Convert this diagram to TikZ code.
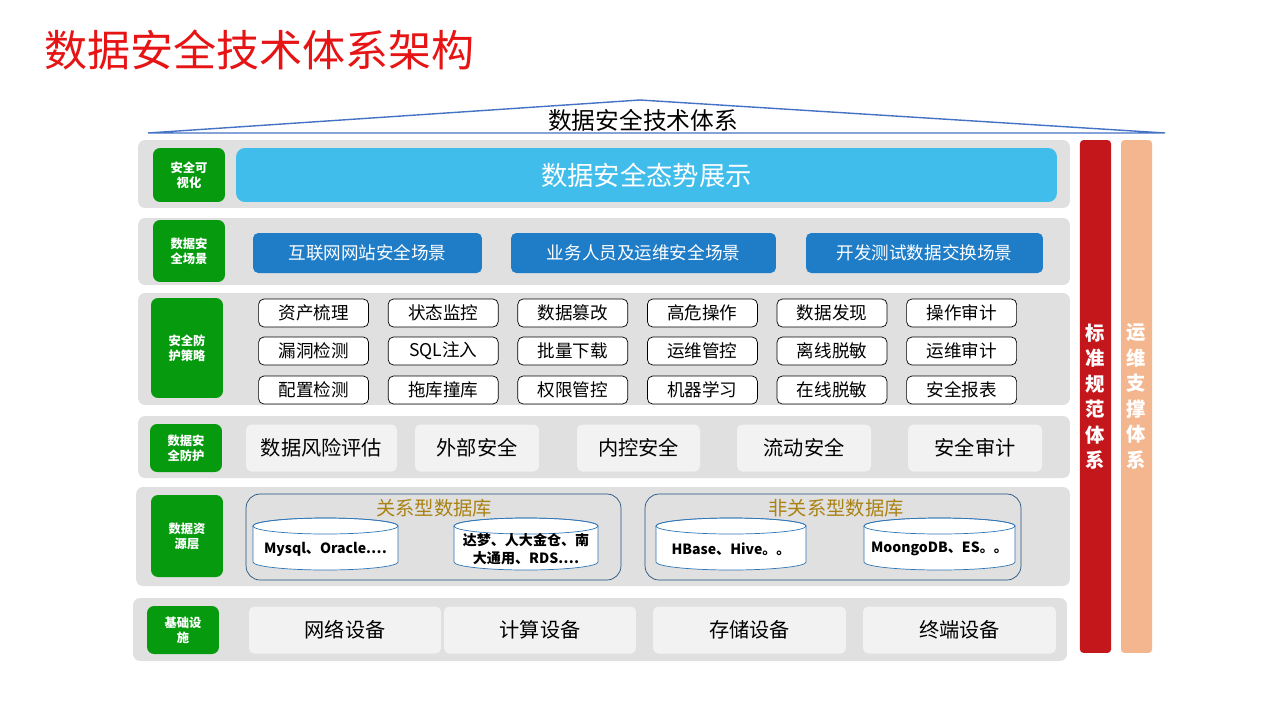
\documentclass[tikz,border=0pt]{standalone}
\usepackage{fontspec}
\setmainfont{Noto Sans CJK SC}
\usetikzlibrary{positioning, calc}

\definecolor{titlered}{RGB}{230,20,20}
\definecolor{roofblue}{RGB}{68,114,196}
\definecolor{rowgray}{RGB}{224,224,224}
\definecolor{labgreen}{RGB}{6,154,14}
\definecolor{skyblue}{RGB}{65,189,235}
\definecolor{btnblue}{RGB}{31,125,200}
\definecolor{cellgray}{RGB}{242,242,242}
\definecolor{dbblue}{RGB}{46,117,182}
\definecolor{dbgold}{RGB}{170,130,20}
\definecolor{barred}{RGB}{196,23,28}
\definecolor{barsalmon}{RGB}{244,182,143}

\tikzset{
  row/.style={draw=none,fill=rowgray,rounded corners=4pt},
  lab/.style={draw=none,fill=labgreen,rounded corners=4pt,text=white,font=\fontsize{7}{8.5}\selectfont\bfseries,align=center,minimum width=1.44cm},
  btn/.style={fill=btnblue,rounded corners=3pt,text=white,font=\fontsize{10}{12}\selectfont,minimum height=0.8cm},
  tag/.style={draw=black,fill=white,rounded corners=3pt,font=\fontsize{10}{12}\selectfont,minimum width=2.2cm,minimum height=0.56cm,inner sep=1pt},
  cell/.style={fill=cellgray,rounded corners=3pt,font=\fontsize{11.5}{13}\selectfont,minimum height=0.94cm},
  dbgroup/.style={draw=dbblue!70!black,rounded corners=8pt,minimum width=7.5cm,minimum height=1.72cm},
  vbar/.style={rounded corners=2pt,minimum height=10.26cm,text=white,font=\fontsize{11}{14.5}\selectfont\bfseries,align=center}
}

\newcommand{\dbcyl}[5]{% name, cx, cy, width(px), text
  \pgfmathsetmacro{\rx}{#4/2*0.02}
  \filldraw[draw=dbblue,fill=white] ($(#2,#3)+(-#4/2,-18)$) -- ($(#2,#3)+(-#4/2,18)$)
    arc(180:360:\rx cm and 0.16cm) -- ($(#2,#3)+(#4/2,-18)$) arc(0:180:\rx cm and 0.16cm) -- cycle;
  \draw[dbblue] ($(#2,#3)+(0,-18)$) ellipse ({\rx cm} and 0.16cm);
  \node[font=\fontsize{8}{10}\selectfont\bfseries,align=center] (#1) at (#2,#3+5) {#5};
}

\begin{document}
\begin{tikzpicture}[x=0.02cm,y=-0.02cm]
\useasboundingbox[fill=white] (0,0) rectangle (1280,720);

% title and roof
\node[text=titlered,font=\fontsize{24.5}{28}\selectfont,anchor=west] (title) at (38,50) {数据安全技术体系架构};
\coordinate (roofL) at (148,133);
\coordinate (roofT) at (640,100);
\coordinate (roofR) at (1165,133);
\draw[roofblue,thick] (roofL) -- (roofT) -- (roofR) -- cycle;
\node[font=\fontsize{13.5}{16}\selectfont,inner sep=1pt] (roof) at (643,120) {数据安全技术体系};

% layer backgrounds
\node[row,minimum width=18.64cm,minimum height=1.36cm] (r1) at (604,174) {};
\node[row,minimum width=18.64cm,minimum height=1.34cm] (r2) at (604,251.5) {};
\node[row,minimum width=18.64cm,minimum height=2.24cm] (r3) at (604,349) {};
\node[row,minimum width=18.64cm,minimum height=1.24cm] (r4) at (604,447) {};
\node[row,minimum width=18.68cm,minimum height=1.98cm] (r5) at (603,536.5) {};
\node[row,minimum width=18.68cm,minimum height=1.26cm] (r6) at (600,629.5) {};

% layer labels
\node[lab,minimum height=1.08cm] (l1) at (189,175) {安全可\\视化};
\node[lab,minimum height=1.24cm] (l2) at (189,251) {数据安\\全场景};
\node[lab,minimum height=2.0cm] (l3) at (187,348) {安全防\\护策略};
\node[lab,minimum height=0.96cm] (l4) at (186,448) {数据安\\全防护};
\node[lab,minimum height=1.64cm] (l5) at (187,536) {数据资\\源层};
\node[lab,minimum height=0.96cm] (l6) at (183,630) {基础设\\施};

% visualisation
\node[fill=skyblue,rounded corners=5pt,text=white,font=\fontsize{15}{18}\selectfont,minimum width=16.42cm,minimum height=1.08cm] (show) at (646.5,175) {数据安全态势展示};

% scenes
\node[btn,minimum width=4.58cm] (s1) at (367.5,253) {互联网网站安全场景};
\node[btn,minimum width=5.3cm] (s2) at (643.5,253) {业务人员及运维安全场景};
\node[btn,minimum width=4.74cm] (s3) at (924.5,253) {开发测试数据交换场景};

% strategy grid
\foreach \t [count=\i] in {资产梳理,状态监控,数据篡改,高危操作,数据发现,操作审计}
  \node[tag] (pa\i) at ({184+\i*129.6},313) {\t};
\foreach \t [count=\i] in {漏洞检测,SQL注入,批量下载,运维管控,离线脱敏,运维审计}
  \node[tag] (pb\i) at ({184+\i*129.6},351) {\t};
\foreach \t [count=\i] in {配置检测,拖库撞库,权限管控,机器学习,在线脱敏,安全报表}
  \node[tag] (pc\i) at ({184+\i*129.6},390) {\t};

% protection
\node[cell,minimum width=3.02cm] (d1) at (321.5,448) {数据风险评估};
\node[cell,minimum width=2.48cm] (d2) at (477,448) {外部安全};
\node[cell,minimum width=2.46cm] (d3) at (638.5,448) {内控安全};
\node[cell,minimum width=2.68cm] (d4) at (804,448) {流动安全};
\node[cell,minimum width=2.68cm] (d5) at (975,448) {安全审计};

% databases
\node[dbgroup] (rel) at (433.5,537) {};
\node[dbgroup,minimum width=7.52cm] (nrel) at (833,537) {};
\node[text=dbgold,font=\fontsize{11}{13}\selectfont] (relt) at (434,508) {关系型数据库};
\node[text=dbgold,font=\fontsize{11}{13}\selectfont] (nrelt) at (836,508) {非关系型数据库};
\dbcyl{db1}{325.5}{544}{145}{Mysql、Oracle.…}
\dbcyl{db2}{526}{544}{144}{达梦、人大金仓、南\\大通用、RDS.…}
\dbcyl{db3}{731}{544}{150}{HBase、Hive。。}
\dbcyl{db4}{939.5}{544}{151}{MoongoDB、ES。。}

% infrastructure
\node[cell,minimum width=3.84cm] (i1) at (345,630) {网络设备};
\node[cell,minimum width=3.84cm] (i2) at (540,630) {计算设备};
\node[cell,minimum width=3.86cm] (i3) at (749.5,630) {存储设备};
\node[cell,minimum width=3.86cm] (i4) at (959.5,630) {终端设备};

% side bars
\node[vbar,fill=barred,minimum width=0.54cm] (std) at (1095.5,396.5) {标\\准\\规\\范\\体\\系};
\node[vbar,fill=barsalmon,minimum width=0.62cm] (ops) at (1136.5,396.5) {运\\维\\支\\撑\\体\\系};
\end{tikzpicture}
\end{document}
